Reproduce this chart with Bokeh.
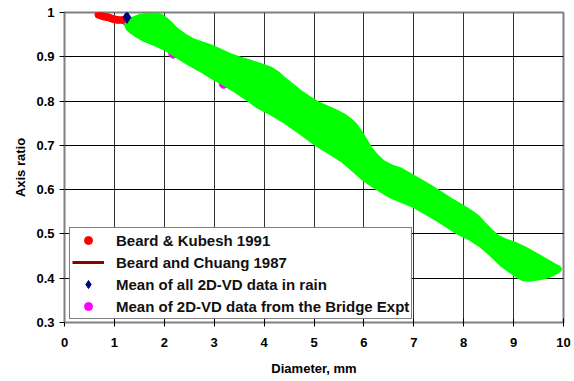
from bokeh.plotting import figure
from bokeh.models import (Legend, LegendItem, FixedTicker, CustomJSTickFormatter,
                          Range1d)
from bokeh.embed import file_html
from bokeh.resources import INLINE

# Beard & Kubesh 1991 (small drops)
bk_diam = [0.68, 0.73, 0.78, 0.83, 0.88, 0.93, 0.98, 1.03, 1.08, 1.15]
bk_ratio = [0.995, 0.993, 0.991, 0.990, 0.989, 0.987, 0.985, 0.984, 0.983, 0.983]

# Beard and Chuang 1987 equilibrium shape
bc_diam = [1.5, 2, 3, 4, 5, 6, 7, 8, 9]
bc_ratio = [0.96, 0.95, 0.885, 0.83, 0.75, 0.67, 0.60, 0.525, 0.445]

# Mean of all 2D-VD data in rain
vd_diam = [1.25]
vd_ratio = [0.989]

# Mean of 2D-VD data from the Bridge experiment
br_diam = [1.24, 2.18, 3.19]
br_ratio = [0.981, 0.907, 0.839]

# Spread of the 2D-VD measurements (upper and lower envelopes)
band_up_diam = [1.22, 1.25, 1.35, 1.52, 1.66, 1.78, 1.88, 1.97, 2.06, 2.16, 2.26,
                2.42, 2.58, 2.75, 2.93, 3.13, 3.33, 3.53, 3.73, 3.93, 4.13, 4.27,
                4.40, 4.57, 4.73, 4.90, 5.07, 5.27, 5.47, 5.62, 5.74, 5.85, 5.94,
                6.04, 6.14, 6.27, 6.41, 6.57, 6.74, 6.94, 7.14, 7.34, 7.55, 7.75,
                7.95, 8.15, 8.30, 8.41, 8.55, 8.68, 8.85, 9.02, 9.22, 9.42, 9.62,
                9.82, 9.92, 9.95]
band_up_ratio = [0.974, 0.981, 0.988, 0.995, 0.997, 0.998, 0.998, 0.993, 0.985,
                 0.975, 0.963, 0.950, 0.940, 0.933, 0.926, 0.916, 0.906, 0.898,
                 0.891, 0.884, 0.876, 0.866, 0.853, 0.838, 0.823, 0.810, 0.798,
                 0.788, 0.778, 0.769, 0.759, 0.747, 0.733, 0.715, 0.695, 0.678,
                 0.663, 0.654, 0.648, 0.635, 0.622, 0.609, 0.594, 0.579, 0.566,
                 0.552, 0.540, 0.526, 0.510, 0.496, 0.487, 0.481, 0.470, 0.458,
                 0.445, 0.432, 0.426, 0.421]
band_lo_diam = [9.93, 9.89, 9.80, 9.69, 9.50, 9.29, 9.17, 9.08, 8.92, 8.75, 8.55,
                8.35, 8.12, 7.88, 7.65, 7.41, 7.21, 7.01, 6.78, 6.54, 6.27, 6.00,
                5.77, 5.54, 5.27, 5.00, 4.70, 4.40, 4.13, 3.86, 3.63, 3.39, 3.16,
                2.93, 2.70, 2.46, 2.22, 1.99, 1.79, 1.59, 1.45, 1.32, 1.25, 1.22]
band_lo_ratio = [0.417, 0.413, 0.407, 0.402, 0.397, 0.394, 0.396, 0.402, 0.414,
                 0.428, 0.450, 0.470, 0.487, 0.500, 0.517, 0.534, 0.547, 0.560,
                 0.571, 0.582, 0.600, 0.620, 0.643, 0.665, 0.684, 0.703, 0.728,
                 0.752, 0.770, 0.786, 0.805, 0.823, 0.838, 0.853, 0.869, 0.884,
                 0.901, 0.917, 0.927, 0.936, 0.945, 0.955, 0.962, 0.970]

x_ticks = list(range(0, 11))
y_ticks = [0.3, 0.4, 0.5, 0.6, 0.7, 0.8, 0.9, 1.0]

FONT = "Liberation Sans"

p = figure(width=574, height=381, output_backend="svg", toolbar_location=None,
           x_range=Range1d(0, 10), y_range=Range1d(0.3, 1.0),
           min_border_left=64, min_border_right=11, min_border_top=12,
           min_border_bottom=59)
p.background_fill_color = "white"
p.border_fill_color = "white"
p.outline_line_color = "#808080"
p.outline_line_width = 2

# grid
p.xgrid.ticker = FixedTicker(ticks=x_ticks)
p.ygrid.ticker = FixedTicker(ticks=y_ticks)
p.xgrid.grid_line_color = "#333333"
p.ygrid.grid_line_color = "#000000"
p.xgrid.grid_line_width = 1
p.ygrid.grid_line_width = 1

# axes
for ax in (p.xaxis[0], p.yaxis[0]):
    ax.axis_line_color = "#808080"
    ax.axis_line_width = 1
    ax.major_tick_line_color = "#000000"
    ax.minor_tick_line_color = None
    ax.major_label_text_font = FONT
    ax.major_label_text_font_style = "bold"
    ax.major_label_text_font_size = "13px"
    ax.major_label_text_color = "#000000"
    ax.axis_label_text_font = FONT
    ax.axis_label_text_font_style = "bold"
    ax.axis_label_text_font_size = "13px"
    ax.axis_label_text_color = "#000000"

p.xaxis.ticker = FixedTicker(ticks=x_ticks)
p.yaxis.ticker = FixedTicker(ticks=y_ticks)
p.yaxis.formatter = CustomJSTickFormatter(
    code="return tick.toFixed(1).replace(/\\.0$/, '');")
p.xaxis.major_tick_out = 4
p.xaxis.major_tick_in = 4
p.yaxis.major_tick_out = 5
p.yaxis.major_tick_in = 0
p.xaxis.major_label_standoff = 11
p.yaxis.major_label_standoff = 5
p.xaxis.axis_label = "Diameter, mm"
p.yaxis.axis_label = "Axis ratio"
p.xaxis.axis_label_standoff = 11
p.yaxis.axis_label_standoff = 5

# marks
r_bc = p.line(bc_diam, bc_ratio, line_color="#8B0000", line_width=3)
r_br = p.scatter(br_diam, br_ratio, marker="circle", size=9,
                 fill_color="#FF00FF", line_color="#FF00FF")
band_x = band_up_diam + band_lo_diam
band_y = band_up_ratio + band_lo_ratio
p.patch(band_x, band_y, fill_color="#00FF00", line_color="#00FF00", line_width=2,
        line_join="round")
r_bk = p.scatter(bk_diam, bk_ratio, marker="circle", size=7,
                 fill_color="#FF0000", line_color="#FF0000")
r_vd = p.scatter(vd_diam, vd_ratio, marker="diamond", size=12,
                 fill_color="#000080", line_color="#000080")

legend = Legend(items=[
    LegendItem(label="Beard & Kubesh 1991", renderers=[r_bk]),
    LegendItem(label="Beard and Chuang 1987", renderers=[r_bc]),
    LegendItem(label="Mean of all 2D-VD data in rain", renderers=[r_vd]),
    LegendItem(label="Mean of 2D-VD data from the Bridge Expt", renderers=[r_br]),
], location=(5, 3))
legend.border_line_color = "#000000"
legend.border_line_width = 1
legend.background_fill_color = "white"
legend.background_fill_alpha = 1
legend.label_text_font = FONT
legend.label_text_font_style = "bold"
legend.label_text_font_size = "15px"
legend.label_text_color = "#111111"
legend.padding = 2
legend.spacing = 2
legend.margin = 0
legend.glyph_width = 32
legend.glyph_height = 20
legend.label_height = 20
legend.label_standoff = 12
p.add_layout(legend, "center")

open("out.html", "w").write(file_html(p, INLINE))
